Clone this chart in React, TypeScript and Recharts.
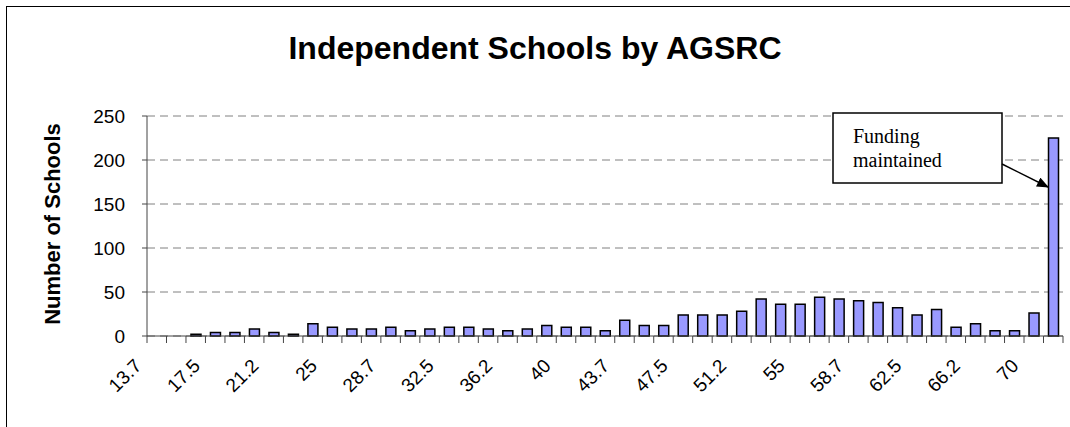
import React from 'react';
import { BarChart, Bar, XAxis, YAxis, CartesianGrid } from 'recharts';

// AGSRC bands, one bar each (labels shown on every third band)
const bands = [
  '13.7', '15', '16.2', '17.5', '18.7', '20', '21.2', '22.5', '23.7', '25',
  '26.2', '27.5', '28.7', '30', '31.2', '32.5', '33.7', '35', '36.2', '37.5',
  '38.7', '40', '41.2', '42.5', '43.7', '45', '46.2', '47.5', '48.7', '50',
  '51.2', '52.5', '53.7', '55', '56.2', '57.5', '58.7', '60', '61.2', '62.5',
  '63.7', '65', '66.2', '67.5', '68.7', '70', '71.2',
];

const schools = [
  0, 0, 2, 4, 4, 8, 4, 2, 14, 10,
  8, 8, 10, 6, 8, 10, 10, 8, 6, 8,
  12, 10, 10, 6, 18, 12, 12, 24, 24, 24,
  28, 42, 36, 36, 44, 42, 40, 38, 32, 24,
  30, 10, 14, 6, 6, 26, 225,
];

const yTicks = [0, 50, 100, 150, 200, 250];

const data = bands.map((band, i) => ({ band, schools: schools[i] }));

const W = 1070;
const H = 427;
const PLOT_LEFT = 147;
const PLOT_RIGHT = 1063;
const STEP = (PLOT_RIGHT - PLOT_LEFT) / bands.length;
const SANS = 'Liberation Sans, Arial, sans-serif';
const SERIF = 'Liberation Serif, Times New Roman, serif';

const XTick = (props: any) => {
  const { x, y, payload, index } = props;
  const left = x - STEP / 2;
  const lx = x - 14;
  const ly = y + 31;
  return (
    <g>
      <line x1={left} y1={y} x2={left} y2={y + 7} stroke="#444" />
      {index === bands.length - 1 && (
        <line x1={x + STEP / 2} y1={y} x2={x + STEP / 2} y2={y + 7} stroke="#444" />
      )}
      {index % 3 === 0 && (
        <text
          x={lx}
          y={ly}
          textAnchor="end"
          fontSize={19}
          fontFamily={SANS}
          fill="#000"
          transform={`rotate(-45, ${lx}, ${ly})`}
        >
          {payload.value}
        </text>
      )}
    </g>
  );
};

export default function App() {
  return (
    <div style={{ position: 'absolute', left: 0, top: 0, width: W, height: H, background: '#fff' }}>
      <div
        style={{
          position: 'absolute',
          left: 6,
          top: 6,
          width: W - 6,
          height: H - 6,
          borderLeft: '1px solid #000',
          borderTop: '1px solid #000',
        }}
      />
      <BarChart
        width={W}
        height={H}
        data={data}
        margin={{ top: 116, right: W - PLOT_RIGHT, bottom: 31, left: 0 }}
        barSize={10}
      >
        <CartesianGrid vertical={false} stroke="#808080" strokeDasharray="8 5" />
        <XAxis
          dataKey="band"
          interval={0}
          height={60}
          tickLine={false}
          tickSize={0}
          tickMargin={0}
          axisLine={{ stroke: '#444' }}
          tick={<XTick />}
        />
        <YAxis
          width={PLOT_LEFT}
          domain={[0, 250]}
          ticks={yTicks}
          tickSize={5}
          tickMargin={17}
          axisLine={{ stroke: '#444' }}
          tickLine={{ stroke: '#444' }}
          tick={{ fontSize: 19, fill: '#000', fontFamily: SANS }}
        />
        <Bar dataKey="schools" fill="#9999FF" stroke="#000" strokeWidth={1.5} isAnimationActive={false} />
      </BarChart>
      <svg
        width={W}
        height={H}
        style={{ position: 'absolute', left: 0, top: 0, pointerEvents: 'none' }}
      >
        <text x={535} y={59} textAnchor="middle" fontSize={32} fontWeight="bold" fontFamily={SANS}>
          Independent Schools by AGSRC
        </text>
        <text
          x={0}
          y={0}
          transform="translate(60, 224) rotate(-90)"
          textAnchor="middle"
          fontSize={22}
          fontWeight="bold"
          fontFamily={SANS}
        >
          Number of Schools
        </text>
        <defs>
          <marker id="head" markerWidth="12" markerHeight="10" refX="11" refY="5" orient="auto" markerUnits="userSpaceOnUse">
            <path d="M0,0 L12,5 L0,10 z" fill="#000" />
          </marker>
        </defs>
        <rect x={833} y={113} width={169} height={70} fill="#fff" stroke="#000" strokeWidth={1.5} />
        <text x={853} y={143} fontSize={20} fontFamily={SERIF}>Funding</text>
        <text x={853} y={167} fontSize={20} fontFamily={SERIF}>maintained</text>
        <line x1={1002} y1={164} x2={1048} y2={187} stroke="#000" strokeWidth={1.5} markerEnd="url(#head)" />
      </svg>
    </div>
  );
}
